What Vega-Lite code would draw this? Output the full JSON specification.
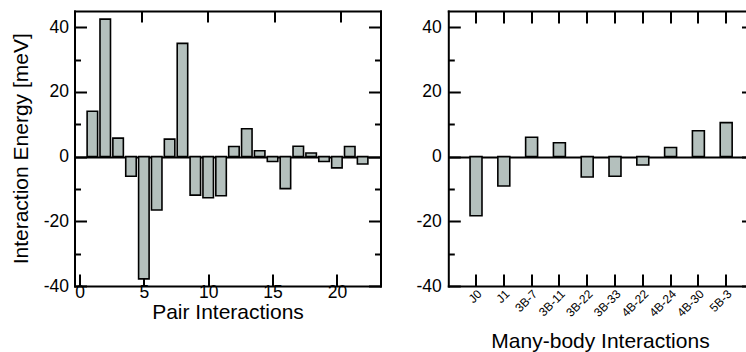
{
  "$schema": "https://vega.github.io/schema/vega-lite/v6.json",
  "width": 671.5,
  "height": 275,
  "autosize": {"type": "none"},
  "padding": {"left": 74.5, "top": 11, "right": 0, "bottom": 66},
  "background": "white",
  "config": {
    "view": {"stroke": null},
    "font": "Liberation Sans",
    "axis": {
      "domainColor": "black", "domainWidth": 2, "domainCap": "square",
      "tickColor": "black", "tickWidth": 2,
      "labelColor": "black", "titleColor": "black",
      "labelFont": "Liberation Sans", "titleFont": "Liberation Sans",
      "labelFontSize": 17.5, "titleFontSize": 21, "titleFontWeight": "normal",
      "grid": false, "labelFlush": false, "labelOverlap": false
    }
  },
  "datasets": {
    "pairs": [
      {"pair": 1, "energy": 14.0}, {"pair": 2, "energy": 42.5}, {"pair": 3, "energy": 5.7},
      {"pair": 4, "energy": -6.1}, {"pair": 5, "energy": -37.8}, {"pair": 6, "energy": -16.5},
      {"pair": 7, "energy": 5.4}, {"pair": 8, "energy": 35.0}, {"pair": 9, "energy": -11.9},
      {"pair": 10, "energy": -12.7}, {"pair": 11, "energy": -12.1}, {"pair": 12, "energy": 3.1},
      {"pair": 13, "energy": 8.6}, {"pair": 14, "energy": 1.8}, {"pair": 15, "energy": -1.5},
      {"pair": 16, "energy": -9.9}, {"pair": 17, "energy": 3.2}, {"pair": 18, "energy": 1.1},
      {"pair": 19, "energy": -1.5}, {"pair": 20, "energy": -3.5}, {"pair": 21, "energy": 3.1},
      {"pair": 22, "energy": -2.3}
    ],
    "terms": [
      {"term": "J0", "energy": -18.3}, {"term": "J1", "energy": -9.1},
      {"term": "3B-7", "energy": 6.0}, {"term": "3B-11", "energy": 4.3},
      {"term": "3B-22", "energy": -6.3}, {"term": "3B-33", "energy": -6.1},
      {"term": "4B-22", "energy": -2.6}, {"term": "4B-24", "energy": 2.8},
      {"term": "4B-30", "energy": 8.0}, {"term": "5B-3", "energy": 10.5}
    ]
  },
  "layer": [
    {
      "data": {"name": "pairs"},
      "mark": {"type": "bar", "fill": "#b4c0bd", "stroke": "black", "strokeWidth": 1.6, "size": 10.5},
      "encoding": {
        "x": {"field": "pair", "type": "quantitative",
              "scale": {"domain": [0, 23], "range": [0, 306], "nice": false, "zero": false},
              "axis": {"orient": "bottom", "title": "Pair Interactions", "values": [0, 5, 10, 15, 20],
                       "labelExpr": "'' + datum.value",
                       "tickSize": -12, "labelPadding": 9,
                       "titleX": 153, "titleY": 32.8, "titleBaseline": "alphabetic", "titleAlign": "center"}},
        "y": {"field": "energy", "type": "quantitative",
              "scale": {"domain": [-40, 45], "nice": false},
              "axis": {"orient": "left", "title": "Interaction Energy [meV]", "values": [-40, -20, 0, 20, 40],
                       "labelExpr": "'' + datum.value",
                       "tickSize": -12, "labelPadding": 18,
                       "titleX": -47.5, "titleY": 137.3, "titleAngle": -90, "titleBaseline": "alphabetic", "titleAlign": "center"}}
      }
    },
    {
      "data": {"name": "pairs"},
      "mark": {"type": "rule", "opacity": 0},
      "encoding": {
        "x": {"field": "pair", "type": "quantitative",
              "scale": {"domain": [0, 23], "range": [0, 306], "nice": false, "zero": false},
              "axis": {"orient": "top", "title": null, "labels": false, "values": [5, 10, 15, 20], "tickSize": -11}},
        "y": {"field": "energy", "type": "quantitative",
              "scale": {"domain": [-40, 45], "nice": false},
              "axis": {"orient": "right", "offset": -365.5, "title": null, "labels": false,
                       "values": [-40, -20, 0, 20, 40], "tickSize": -12}}
      }
    },
    {
      "data": {"name": "pairs"},
      "mark": {"type": "rule", "opacity": 0},
      "encoding": {
        "y": {"field": "energy", "type": "quantitative",
              "scale": {"domain": [-40, 45], "nice": false},
              "axis": {"orient": "left", "title": null, "labels": false, "domain": false,
                       "values": [-30, -10, 10, 30], "tickSize": -6}}
      }
    },
    {
      "data": {"name": "pairs"},
      "mark": {"type": "rule", "opacity": 0},
      "encoding": {
        "y": {"field": "energy", "type": "quantitative",
              "scale": {"domain": [-40, 45], "nice": false},
              "axis": {"orient": "right", "offset": -365.5, "title": null, "labels": false, "domain": false,
                       "values": [-30, -10, 10, 30], "tickSize": -6}}
      }
    },
    {
      "data": {"name": "pairs"},
      "mark": {"type": "rule", "opacity": 0},
      "encoding": {
        "y": {"field": "energy", "type": "quantitative",
              "scale": {"domain": [-40, 45], "nice": false},
              "axis": {"orient": "left", "title": null, "labels": false, "domain": false,
                       "values": [0], "tickSize": -306}}
      }
    },
    {
      "data": {"name": "terms"},
      "mark": {"type": "bar", "fill": "#b4c0bd", "stroke": "black", "strokeWidth": 1.6},
      "encoding": {
        "x": {"field": "term", "type": "nominal", "sort": null,
              "scale": {"range": [373.8, 671.5], "paddingInner": 0.57, "paddingOuter": 0.64, "align": 0.611},
              "axis": {"orient": "bottom", "title": "Many-body Interactions", "labelAngle": -45, "labelFontSize": 12,
                       "labelAlign": "right", "labelBaseline": "top",
                       "tickSize": -12, "labelPadding": 14, "bandPosition": 0.5,
                       "titleX": 525.5, "titleY": 61.3, "titleBaseline": "alphabetic", "titleAlign": "center"}},
        "y": {"field": "energy", "type": "quantitative",
              "scale": {"domain": [-40, 45], "nice": false},
              "axis": {"orient": "left", "offset": -373.8, "title": null, "values": [-40, -20, 0, 20, 40],
                       "labelExpr": "'' + datum.value",
                       "tickSize": -12, "labelPadding": 19}}
      }
    },
    {
      "data": {"name": "terms"},
      "mark": {"type": "rule", "opacity": 0},
      "encoding": {
        "x": {"field": "term", "type": "nominal", "sort": null,
              "scale": {"range": [373.8, 671.5], "paddingInner": 0.57, "paddingOuter": 0.64, "align": 0.611},
              "axis": {"orient": "top", "title": null, "labels": false, "tickSize": -12, "bandPosition": 0.5}},
        "y": {"field": "energy", "type": "quantitative",
              "scale": {"domain": [-40, 45], "nice": false},
              "axis": {"orient": "right", "title": null, "labels": false, "domain": false,
                       "values": [-40, -20, 0, 20, 40], "tickSize": -4.5}}
      }
    },
    {
      "data": {"name": "terms"},
      "mark": {"type": "rule", "opacity": 0},
      "encoding": {
        "y": {"field": "energy", "type": "quantitative",
              "scale": {"domain": [-40, 45], "nice": false},
              "axis": {"orient": "left", "offset": -373.8, "title": null, "labels": false, "domain": false,
                       "values": [-30, -10, 10, 30], "tickSize": -6}}
      }
    },
    {
      "data": {"name": "terms"},
      "mark": {"type": "rule", "opacity": 0},
      "encoding": {
        "y": {"field": "energy", "type": "quantitative",
              "scale": {"domain": [-40, 45], "nice": false},
              "axis": {"orient": "left", "offset": -373.8, "title": null, "labels": false, "domain": false,
                       "values": [0], "tickSize": -297.7}}
      }
    }
  ],
  "resolve": {"scale": {"x": "independent"}, "axis": {"x": "independent", "y": "independent"}}
}
